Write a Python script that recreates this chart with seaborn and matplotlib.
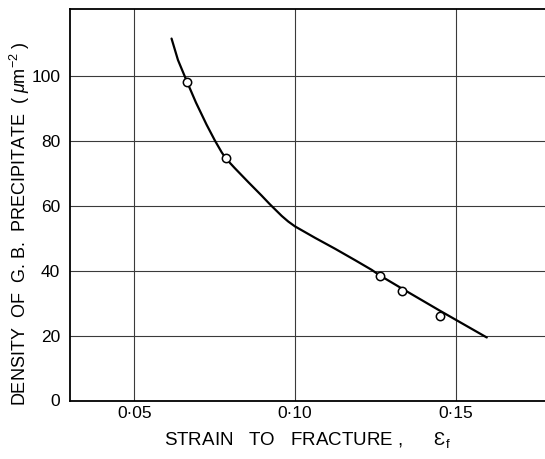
import matplotlib
matplotlib.use("Agg")
import matplotlib.pyplot as plt
import seaborn as sns
import pandas as pd

# Measured precipitate density against strain to fracture
strain = [0.0665, 0.0785, 0.1264, 0.1334, 0.1451]
density = [98.1, 74.5, 38.2, 33.7, 26.0]

# Hand-drawn trend curve through the measurements
curve_strain = [0.0616, 0.0636, 0.0665, 0.0692, 0.0725, 0.0751, 0.0772, 0.0785,
                0.0813, 0.0855, 0.0896, 0.0922, 0.0959, 0.0979, 0.1000, 0.1062,
                0.1125, 0.1187, 0.1239, 0.1264, 0.1334, 0.1379, 0.1450, 0.1535,
                0.1597]
curve_density = [111.4, 104.8, 97.9, 91.7, 84.9, 80.0, 76.4, 74.5,
                 71.5, 67.2, 63.1, 60.4, 56.8, 55.1, 53.6, 50.1,
                 46.7, 43.2, 40.2, 38.5, 34.4, 31.8, 27.7, 22.9,
                 19.4]

x_ticks = [0.05, 0.10, 0.15]
x_tick_labels = ["0·05", "0·10", "0·15"]
y_ticks = [0, 20, 40, 60, 80, 100]
y_tick_labels = ["0", "20", "40", "60", "80", "100"]

sns.set_theme(style="white")
plt.rcParams["font.family"] = ["Liberation Sans", "DejaVu Sans"]
plt.rcParams["mathtext.fontset"] = "custom"
plt.rcParams["mathtext.rm"] = "Liberation Sans"
plt.rcParams["mathtext.it"] = "Liberation Sans:italic"

points = pd.DataFrame({"strain": strain, "density": density})
curve = pd.DataFrame({"strain": curve_strain, "density": curve_density})

fig = plt.figure(figsize=(5.45, 4.59), dpi=100)
ax = fig.add_axes([70 / 545, 58.5 / 459, 482 / 545, 391.5 / 459])

for xv in x_ticks:
    ax.axvline(xv, color="#3a3a3a", lw=0.8, zorder=1)
for yv in y_ticks[1:]:
    ax.axhline(yv, color="#3a3a3a", lw=0.8, zorder=1)

sns.lineplot(data=curve, x="strain", y="density", sort=False, color="black",
             lw=1.6, ax=ax, zorder=3)
sns.scatterplot(data=points, x="strain", y="density", s=36, marker="o",
                facecolor="white", edgecolor="black", linewidth=1.1,
                ax=ax, zorder=4)

ax.set_xlim(0.03, 0.18)
ax.set_ylim(0, 120.5)
ax.set_xticks(x_ticks)
ax.set_xticklabels(x_tick_labels)
ax.set_yticks(y_ticks)
ax.set_yticklabels(y_tick_labels)
ax.tick_params(axis="both", length=0, labelsize=12.5, colors="black")
ax.tick_params(axis="x", pad=4)
ax.tick_params(axis="y", pad=7)

for side in ["left", "top", "bottom"]:
    ax.spines[side].set_visible(True)
    ax.spines[side].set_color("black")
    ax.spines[side].set_linewidth(1.3)
ax.spines["right"].set_visible(False)

ax.set_xlabel("STRAIN   TO   FRACTURE ,      Ɛ$_{\\rm f}$",
              fontsize=13.5, color="black")
ax.xaxis.set_label_coords((307 - 70) / 482, (400.5 - 430) / 391.5)
ax.set_ylabel(r"DENSITY  OF  G. B.  PRECIPITATE  ( $\mu$m$^{-2}$ )",
              fontsize=13, color="black")
ax.yaxis.set_label_coords((32 - 70) / 482, (400.5 - 224) / 391.5)

fig.savefig("out.png", dpi=100)
